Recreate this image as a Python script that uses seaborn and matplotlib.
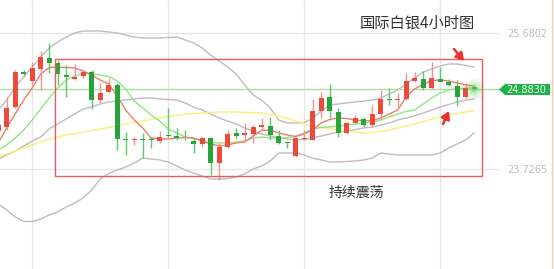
import matplotlib
matplotlib.use("Agg")
import numpy as np
import pandas as pd
import matplotlib.pyplot as plt
import seaborn as sns
from matplotlib.patches import Rectangle, Polygon

# ---------------- data ----------------
opens = [24.277, 24.334, 24.621, 25.124, 24.995, 25.167, 25.325, 25.254, 25.081, 25.024,
         25.067, 25.124, 24.722, 24.837, 24.937, 24.155, 24.140, 24.155, 24.155, 24.133,
         24.212, 24.198, 24.183, 24.133, 24.090, 24.176, 23.817, 24.047, 24.248, 24.226,
         24.234, 24.341, 24.349, 24.205, 24.112, 23.917, 24.155, 24.147, 24.564, 24.765,
         24.550, 24.248, 24.392, 24.449, 24.363, 24.521, 24.743, 24.729, 24.736, 24.995,
         25.024, 24.894, 25.024, 24.981, 24.923, 24.765, 24.909]
highs = [24.406, 24.765, 25.153, 25.153, 25.268, 25.426, 25.541, 25.297, 25.225, 25.239,
         25.153, 25.153, 24.966, 25.038, 24.966, 24.262, 24.190, 24.248, 24.190, 24.277,
         24.607, 24.320, 24.291, 24.176, 24.190, 24.190, 24.104, 24.291, 24.320, 24.392,
         24.363, 24.463, 24.478, 24.291, 24.119, 24.190, 24.291, 24.736, 24.837, 24.952,
         24.607, 24.406, 24.507, 24.478, 24.650, 24.866, 24.894, 24.822, 25.110, 25.124,
         25.139, 25.268, 25.196, 25.024, 25.009, 24.966, 24.923]
lows = [24.234, 24.291, 24.607, 25.067, 24.937, 24.866, 25.110, 24.937, 24.765, 25.009,
        25.038, 24.593, 24.679, 24.822, 24.004, 23.932, 24.076, 23.888, 24.032, 24.104,
        24.190, 24.147, 24.147, 23.960, 24.047, 23.645, 23.573, 24.032, 24.176, 24.119,
        24.104, 24.291, 24.147, 24.090, 24.032, 23.903, 24.147, 24.140, 24.463, 24.463,
        24.190, 24.240, 24.385, 24.334, 24.334, 24.435, 24.650, 24.621, 24.722, 24.981,
        24.866, 24.885, 24.975, 24.923, 24.636, 24.751, 24.866]
closes = [24.363, 24.607, 25.124, 25.096, 25.182, 25.340, 25.254, 25.096, 25.052, 25.052,
          25.124, 24.722, 24.822, 24.937, 24.162, 24.140, 24.155, 24.140, 24.140, 24.190,
          24.198, 24.183, 24.169, 24.090, 24.176, 23.817, 24.047, 24.234, 24.205, 24.241,
          24.334, 24.356, 24.219, 24.104, 24.097, 24.176, 24.169, 24.564, 24.751, 24.564,
          24.248, 24.392, 24.463, 24.363, 24.521, 24.736, 24.729, 24.743, 24.995, 25.038,
          24.894, 25.038, 24.981, 24.937, 24.765, 24.894, 24.883]

boll_upper = [24.578, 24.722, 24.909, 25.052, 25.196, 25.340, 25.469, 25.555, 25.627, 25.685,
              25.713, 25.713, 25.713, 25.699, 25.685, 25.656, 25.627, 25.613, 25.613, 25.613,
              25.620, 25.627, 25.584, 25.541, 25.469, 25.368, 25.282, 25.196, 25.096, 24.937,
              24.794, 24.722, 24.607, 24.435, 24.392, 24.392, 24.392, 24.463, 24.564, 24.650,
              24.664, 24.679, 24.693, 24.708, 24.722, 24.751, 24.808, 24.866, 24.952, 25.038,
              25.124, 25.167, 25.210, 25.239, 25.239, 25.218, 25.196]
boll_mid = [23.874, 23.932, 23.989, 24.061, 24.133, 24.190, 24.305, 24.377, 24.449, 24.521,
            24.593, 24.621, 24.664, 24.693, 24.708, 24.722, 24.736, 24.751, 24.751, 24.736,
            24.729, 24.722, 24.679, 24.621, 24.578, 24.521, 24.463, 24.420, 24.377, 24.320,
            24.277, 24.234, 24.205, 24.176, 24.162, 24.147, 24.154, 24.176, 24.205, 24.234,
            24.262, 24.277, 24.298, 24.320, 24.334, 24.363, 24.392, 24.435, 24.463, 24.492,
            24.535, 24.578, 24.621, 24.657, 24.693, 24.722, 24.736]
boll_lower = [23.228, 23.141, 23.041, 22.976, 22.976, 23.012, 23.070, 23.113, 23.185, 23.242,
              23.314, 23.429, 23.587, 23.666, 23.716, 23.759, 23.817, 23.888, 23.874, 23.860,
              23.831, 23.774, 23.716, 23.673, 23.630, 23.587, 23.587, 23.594, 23.616, 23.659,
              23.731, 23.774, 23.846, 23.960, 23.960, 23.960, 23.932, 23.888, 23.860, 23.831,
              23.831, 23.839, 23.846, 23.860, 23.888, 23.960, 23.946, 23.932, 23.932, 23.932,
              23.932, 23.932, 23.960, 24.032, 24.090, 24.147, 24.248]
ma_red = [24.104, 24.320, 24.521, 24.722, 24.894, 25.096, 25.189, 25.196, 25.189, 25.182,
          25.139, 25.081, 25.009, 24.952, 24.779, 24.578, 24.435, 24.320, 24.176, 24.162,
          24.162, 24.176, 24.183, 24.176, 24.133, 24.090, 24.061, 24.076, 24.104, 24.119,
          24.205, 24.284, 24.291, 24.248, 24.219, 24.198, 24.234, 24.291, 24.392, 24.442,
          24.463, 24.456, 24.435, 24.420, 24.427, 24.463, 24.521, 24.578, 24.765, 24.880,
          24.945, 25.002, 25.009, 24.995, 24.966, 24.937, 24.923]
ma_green = [24.004, 24.076, 24.176, 24.291, 24.435, 24.593, 24.751, 24.894, 25.009, 25.067,
            25.103, 25.096, 25.081, 25.060, 24.995, 24.880, 24.707, 24.607, 24.507, 24.420,
            24.305, 24.248, 24.190, 24.169, 24.133, 24.111, 24.104, 24.104, 24.119, 24.133,
            24.176, 24.190, 24.176, 24.176, 24.183, 24.198, 24.248, 24.305, 24.327, 24.334,
            24.349, 24.363, 24.377, 24.392, 24.406, 24.435, 24.478, 24.521, 24.557, 24.578,
            24.664, 24.751, 24.822, 24.866, 24.887, 24.894, 24.894]
ma_yellow = [23.910, 23.946, 23.989, 24.032, 24.076, 24.119, 24.162, 24.190, 24.219, 24.241,
             24.262, 24.284, 24.305, 24.327, 24.349, 24.377, 24.399, 24.420, 24.442, 24.463,
             24.485, 24.499, 24.521, 24.528, 24.535, 24.542, 24.550, 24.550, 24.550, 24.542,
             24.542, 24.535, 24.514, 24.492, 24.456, 24.420, 24.377, 24.349, 24.327, 24.312,
             24.291, 24.277, 24.262, 24.248, 24.255, 24.269, 24.291, 24.320, 24.349, 24.377,
             24.413, 24.449, 24.478, 24.507, 24.528, 24.550, 24.564]

price_ticks = [23.7265, 25.6802]
last_price = 24.8830
box_x = [6.68, 56.92]          # consolidation box (candle index span)
box_y = [23.630, 25.307]       # consolidation box (price span)
title_text = "国际白银4小时图"
note_text = "持续震荡"

# ---------------- style ----------------
sns.set_theme(style="white")
plt.rcParams["font.family"] = ["Noto Sans CJK SC", "DejaVu Sans"]

W, H = 554, 269
fig = plt.figure(figsize=(W / 100, H / 100), dpi=100)
fig.patch.set_facecolor("white")
ax = fig.add_axes([0, 0, 500 / W, 1])
ax.set_facecolor("white")

n = len(opens)
idx = np.arange(n)

# indicator lines through seaborn
lines = pd.DataFrame({
    "idx": np.tile(idx, 6),
    "value": np.concatenate([boll_upper, boll_mid, boll_lower, ma_yellow, ma_green, ma_red]),
    "series": np.repeat(["upper", "mid", "lower", "ma_yellow", "ma_green", "ma_red"], n),
})
palette = {"upper": "#bdbdbd", "mid": "#bdbdbd", "lower": "#bdbdbd",
           "ma_yellow": "#fbef78", "ma_green": "#8fe882", "ma_red": "#ef7d6d"}
sns.lineplot(data=lines, x="idx", y="value", hue="series", palette=palette,
             legend=False, ax=ax, linewidth=1.0, estimator=None, zorder=2)

# candles
o = np.array(opens); c = np.array(closes); h = np.array(highs); l = np.array(lows)
up = c >= o
red, green = "#ea4b3c", "#27a53a"
red_w, green_w = "#f2948a", "#64c66f"
ax.vlines(idx[up], l[up], h[up], color=red_w, lw=1.0, zorder=3)
ax.vlines(idx[~up], l[~up], h[~up], color=green_w, lw=1.0, zorder=3)
body_b = np.minimum(o, c)
body_h = np.maximum(np.abs(c - o), 0.012)
ax.bar(idx[up], body_h[up], bottom=body_b[up], width=0.6, color=red, lw=0, zorder=4)
ax.bar(idx[~up], body_h[~up], bottom=body_b[~up], width=0.6, color=green, lw=0, zorder=4)

# last price line and glow
ax.axhline(last_price, color="#a9e2a9", lw=1.0, zorder=1)
for s, a in [(260, 0.08), (150, 0.12), (70, 0.18), (25, 0.35)]:
    ax.scatter([n - 1], [last_price], s=s, color="#5fd35f", alpha=a, lw=0, zorder=5, clip_on=False)

# consolidation box
ax.add_patch(Rectangle((box_x[0], box_y[0]), box_x[1] - box_x[0], box_y[1] - box_y[0],
                       fill=False, ec="#ee5a5a", lw=1.0, zorder=6))

# axes / grid
ax.set_xlim(0.212, 59.04)
ax.set_ylim(22.2937, 26.1587)
ax.set_xticks([4, 20, 36, 52])
ax.set_yticks(price_ticks)
ax.set_yticklabels([f"{v:.4f}" for v in price_ticks])
ax.yaxis.tick_right()
ax.tick_params(axis="x", length=0, labelbottom=False)
ax.tick_params(axis="y", length=0, pad=5, labelsize=7, labelcolor="#b7bec9")
for lab in ax.get_yticklabels():
    lab.set_family("DejaVu Sans")
ax.grid(True, color="#e6e6e6", lw=1.0)
ax.set_axisbelow(True)
ax.set_xlabel(""); ax.set_ylabel("")
for sp in ax.spines.values():
    sp.set_visible(False)

# overlay in pixel coordinates for annotations
ov = fig.add_axes([0, 0, 1, 1], zorder=10)
ov.set_xlim(0, W); ov.set_ylim(H, 0); ov.axis("off"); ov.patch.set_alpha(0)

ov.text(417, 23.5, title_text, ha="center", va="center", fontsize=11, color="#333333")
ov.text(356.5, 192.5, note_text, ha="center", va="center", fontsize=10, color="#333333")

# last price tag
ov.add_patch(Polygon([(499, 89.5), (505, 84), (550, 84), (550, 95), (505, 95)],
                     closed=True, fc="#22b24a", ec="none"))
ov.text(526.5, 89.8, f"{last_price:.4f}", ha="center", va="center", fontsize=7,
        color="white", family="DejaVu Sans")

# red arrows (short shaft + head)
ov.annotate("", xy=(464, 61), xytext=(454, 49),
            arrowprops=dict(arrowstyle="-|>,head_length=0.5,head_width=0.3",
                            color="#e8332a", lw=1.8, mutation_scale=9, shrinkA=0, shrinkB=0))
ov.annotate("", xy=(449, 111), xytext=(443, 124),
            arrowprops=dict(arrowstyle="-|>,head_length=0.5,head_width=0.3",
                            color="#e8332a", lw=1.8, mutation_scale=9, shrinkA=0, shrinkB=0))

# right border line
ov.plot([551.5, 551.5], [0, H], color="#f8cdb0", lw=1.0)

fig.savefig("out.png", dpi=100, facecolor="white")
